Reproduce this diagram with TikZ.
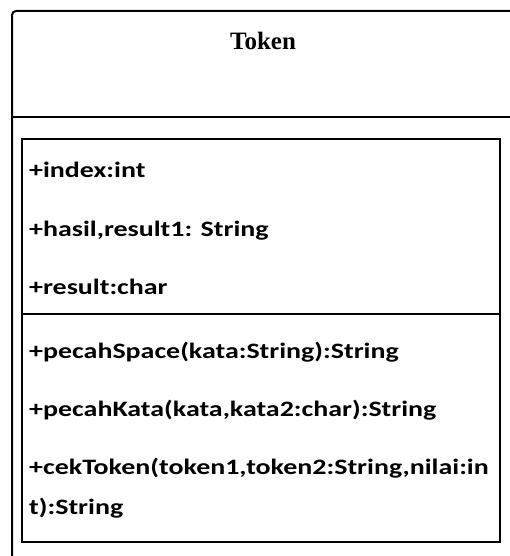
\documentclass[tikz,border=0pt]{standalone}
\usepackage{fontspec}
\setmainfont{Liberation Serif}
\newfontfamily\membfont[FakeStretch=1.27]{Carlito}
\usetikzlibrary{positioning}

\begin{document}
\begin{tikzpicture}[x=1pt, y=-1pt,
    every node/.style={inner sep=0pt},
    frame/.style={line width=2pt},
    box/.style={line width=1.6pt},
    title/.style={font=\bfseries\fontsize{25}{30}\selectfont},
    member/.style={anchor=base west, font=\membfont\bfseries\fontsize{22}{26}\selectfont}]

  \useasboundingbox (0,0) rectangle (510,556);
  \clip (0,0) rectangle (510,556);

  % class frame, cut off at the right and bottom
  \draw[frame, rounded corners=4pt] (514,11) -- (12,11) -- (12,560);
  \draw[frame] (12,117) -- (514,117);
  \node[title] (tName) at (263,41) {Token};

  % attribute and operation compartments
  \draw[box] (22,139) rectangle (500,542);
  \draw[box] (22,314) -- (500,314);

  \node[member] (aIndex)  at (29,178) {+index:int};
  \node[member] (aHasil)  at (29,236) {+hasil,result1: String};
  \node[member] (aResult) at (29,294) {+result:char};

  \node[member] (mSpace)  at (29,358) {+pecahSpace(kata:String):String};
  \node[member] (mKata)   at (29,416) {+pecahKata(kata,kata2:char):String};
  \node[member] (mCek)    at (29,474) {+cekToken(token1,token2:String,nilai:in};
  \node[member] (mCek2)   at (29,514) {t):String};
\end{tikzpicture}
\end{document}
